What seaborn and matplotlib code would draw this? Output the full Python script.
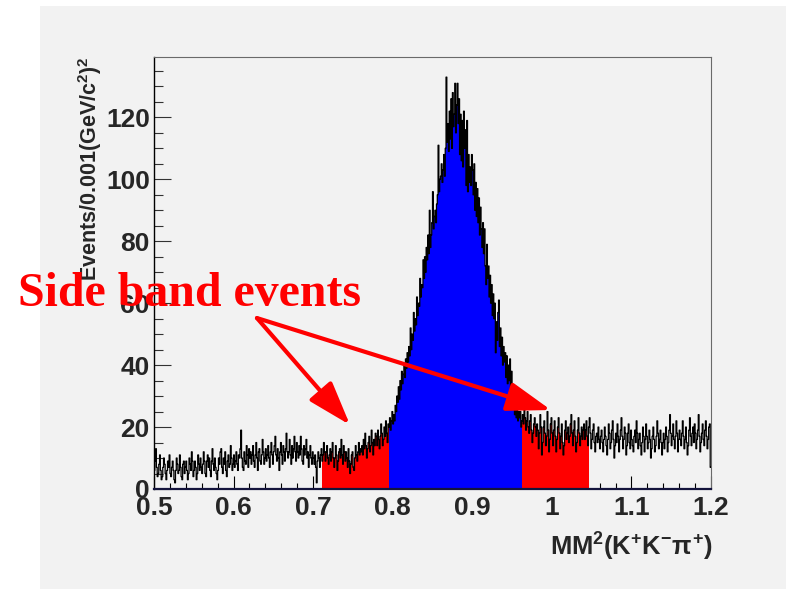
import numpy as np
import pandas as pd
import seaborn as sns
import matplotlib.pyplot as plt
from matplotlib.patches import Rectangle
from matplotlib.ticker import MultipleLocator, FuncFormatter

# Missing-mass-squared histogram, 700 bins of 0.001 GeV^2/c^4 from 0.5 to 1.2
x_lo, x_hi, n_bins = 0.5, 1.2, 700

# Bin contents, one row per 0.02 interval
counts_rows = [
    [6, 9, 13, 7, 4, 5, 8, 11, 6, 3, 4, 7, 10, 8, 5, 3, 6, 9, 7, 11],          # 0.50
    [5, 4, 7, 9, 6, 3, 2, 6, 10, 8, 5, 6, 11, 7, 4, 3, 8, 9, 5, 7],            # 0.52
    [9, 6, 3, 5, 10, 8, 6, 12, 9, 4, 6, 9, 7, 3, 5, 11, 8, 6, 10, 7],          # 0.54
    [5, 8, 12, 9, 5, 4, 9, 11, 7, 10, 6, 4, 9, 13, 8, 6, 10, 7, 5, 3],         # 0.56
    [6, 10, 8, 12, 13, 7, 5, 10, 8, 12, 6, 4, 9, 11, 7, 8, 14, 10, 6, 8],      # 0.58
    [11, 7, 9, 12, 8, 6, 11, 10, 13, 19, 10, 7, 6, 12, 9, 8, 14, 11, 7, 13],   # 0.60
    [10, 12, 8, 11, 14, 9, 7, 11, 15, 10, 6, 12, 13, 9, 8, 11, 16, 12, 8, 10],  # 0.62
    [13, 9, 11, 14, 10, 7, 12, 15, 11, 8, 12, 14, 17, 11, 9, 13, 10, 6, 12, 15],  # 0.64
    [11, 8, 14, 12, 9, 13, 18, 12, 10, 12, 16, 11, 8, 14, 10, 13, 17, 12, 9, 15],  # 0.66
    [12, 10, 14, 11, 17, 13, 9, 8, 14, 11, 13, 16, 10, 12, 7, 11, 14, 10, 8, 12],  # 0.68
    [10, 8, 11, 7, 2, 9, 12, 10, 7, 11, 13, 9, 11, 15, 12, 9, 12, 14, 10, 8],   # 0.70
    [11, 13, 9, 12, 15, 10, 7, 10, 14, 11, 6, 9, 12, 13, 10, 16, 11, 8, 14, 12],  # 0.72
    [9, 12, 10, 7, 13, 9, 5, 8, 11, 12, 7, 6, 10, 14, 11, 9, 12, 15, 11, 13],   # 0.74
    [12, 14, 11, 16, 13, 18, 14, 10, 13, 15, 17, 12, 14, 19, 15, 11, 16, 14, 18, 17],  # 0.76
    [14, 19, 16, 13, 17, 21, 18, 14, 16, 20, 17, 22, 18, 15, 21, 20, 23, 19, 22, 25],  # 0.78
    [21, 24, 22, 27, 25, 30, 28, 33, 29, 35, 32, 38, 34, 37, 40, 36, 42, 39, 44, 41],  # 0.80
    [46, 43, 52, 45, 50, 48, 57, 51, 55, 53, 62, 56, 60, 59, 68, 62, 66, 65, 74, 68],  # 0.82
    [75, 70, 78, 74, 82, 76, 90, 78, 82, 86, 96, 84, 88, 90, 86, 92, 95, 111, 96, 100],  # 0.84
    [101, 105, 99, 103, 108, 101, 110, 133, 112, 118, 109, 122, 113, 126, 110, 128, 117, 121, 131, 115],  # 0.86
    [124, 131, 118, 126, 108, 121, 106, 119, 104, 122, 110, 116, 98, 119, 96, 108, 99, 104, 98, 108],  # 0.88
    [103, 95, 105, 90, 99, 88, 97, 86, 94, 82, 91, 84, 78, 86, 76, 84, 72, 66, 79, 68],  # 0.90
    [72, 62, 69, 60, 66, 56, 63, 55, 60, 44, 54, 48, 57, 61, 46, 52, 43, 49, 40, 46],  # 0.92
    [41, 44, 36, 43, 34, 40, 35, 42, 32, 38, 29, 26, 32, 24, 28, 23, 26, 22, 25, 23],  # 0.94
    [25, 20, 22, 24, 21, 26, 23, 19, 22, 25, 20, 18, 22, 24, 19, 15, 18, 21, 23, 20],  # 0.96
    [17, 21, 19, 13, 18, 24, 20, 11, 15, 20, 22, 18, 14, 17, 25, 19, 12, 16, 21, 23],  # 0.98
    [18, 14, 19, 22, 17, 12, 16, 20, 23, 18, 13, 17, 21, 15, 11, 14, 19, 22, 16, 18],  # 1.00
    [20, 15, 17, 21, 24, 18, 14, 19, 22, 17, 12, 15, 19, 23, 18, 14, 17, 20, 16, 19],  # 1.02
    [21, 16, 19, 22, 17, 14, 20, 23, 18, 13, 16, 19, 21, 15, 12, 17, 18, 15, 20, 16],  # 1.04
    [13, 17, 19, 15, 12, 16, 20, 17, 14, 11, 16, 21, 18, 13, 15, 19, 22, 16, 10, 14],  # 1.06
    [18, 15, 21, 17, 12, 16, 19, 23, 17, 13, 16, 20, 18, 11, 14, 18, 21, 15, 13, 19],  # 1.08
    [16, 14, 12, 17, 19, 15, 22, 18, 13, 16, 18, 14, 11, 15, 20, 17, 12, 16, 21, 17],  # 1.10
    [13, 15, 19, 16, 10, 13, 17, 20, 16, 12, 14, 17, 22, 18, 13, 16, 19, 15, 11, 15],  # 1.12
    [18, 13, 16, 20, 17, 12, 15, 19, 24, 18, 14, 17, 21, 16, 13, 17, 22, 18, 12, 16],  # 1.14
    [19, 16, 14, 18, 22, 17, 13, 16, 20, 15, 11, 14, 19, 23, 17, 14, 18, 20, 15, 21],  # 1.16
    [18, 13, 16, 19, 24, 17, 12, 15, 18, 21, 16, 14, 19, 22, 17, 13, 16, 20, 21, 7],   # 1.18
]
counts = np.concatenate([np.asarray(r, dtype=float) for r in counts_rows])

# Selection windows (GeV^2/c^4)
sideband_low = (0.711, 0.795)
signal_window = (0.795, 0.963)
sideband_high = (0.963, 1.047)
# fill pieces are drawn separately, split at these points
fill_splits = [0.745, 0.843, 0.892, 0.941, 0.990]

edges = np.round(np.linspace(x_lo, x_hi, n_bins + 1), 4)
centers = 0.5 * (edges[:-1] + edges[1:])
df = pd.DataFrame({"mm2": centers, "events": counts})

W, H, DPI = 786, 589, 100
sns.set_theme(style="ticks")
plt.rcParams["font.family"] = ["Liberation Sans", "DejaVu Sans"]
plt.rcParams["font.weight"] = "bold"
plt.rcParams["mathtext.fontset"] = "custom"
plt.rcParams["mathtext.rm"] = "Liberation Sans:bold"
plt.rcParams["mathtext.bf"] = "Liberation Sans:bold"
plt.rcParams["mathtext.it"] = "Liberation Sans:bold"
plt.rcParams["mathtext.sf"] = "Liberation Sans:bold"

fig = plt.figure(figsize=(W / DPI, H / DPI), dpi=DPI, facecolor="white")
fig.patches.append(Rectangle((40 / W, 0), 1 - 40 / W, 1 - 6 / H, transform=fig.transFigure,
                             facecolor="#f2f2f2", edgecolor="none", zorder=-10))

ax_l, ax_r, ax_t, ax_b = 154, 711, 57, 489
ax = fig.add_axes([ax_l / W, 1 - ax_b / H, (ax_r - ax_l) / W, (ax_b - ax_t) / H])
ax.set_facecolor("none")


def fill_piece(lo, hi, color):
    i0 = int(round((lo - x_lo) * 1000))
    i1 = int(round((hi - x_lo) * 1000))
    sub = df.iloc[i0:i1]
    sns.histplot(data=sub, x="mm2", weights="events", bins=edges[i0:i1 + 1].tolist(),
                 element="step", fill=True, color=color, alpha=1.0,
                 linewidth=0, ax=ax, zorder=1)


for (lo, hi), color in [(sideband_low, "#ff0000"), (signal_window, "#0000ff"),
                        (sideband_high, "#ff0000")]:
    cuts = [lo] + [s for s in fill_splits if lo < s < hi] + [hi]
    for a, b in zip(cuts[:-1], cuts[1:]):
        fill_piece(a, b, color)

sns.histplot(data=df, x="mm2", weights="events", bins=edges.tolist(), element="step",
             fill=False, color="black", linewidth=0.9, ax=ax, zorder=2)

ax.set_xlim(x_lo, x_hi)
ax.set_ylim(0, 139.5)
ax.set_xlabel("")
ax.set_ylabel("")

ax.xaxis.set_major_locator(MultipleLocator(0.1))
ax.xaxis.set_minor_locator(MultipleLocator(0.02))
ax.yaxis.set_major_locator(MultipleLocator(20))
ax.yaxis.set_minor_locator(MultipleLocator(5))
ax.xaxis.set_major_formatter(FuncFormatter(lambda v, p: f"{v:g}"))
ax.yaxis.set_major_formatter(FuncFormatter(lambda v, p: f"{v:g}"))

ax.tick_params(axis="x", which="major", direction="in", length=9.4, width=0.8,
               color="black", pad=5, labelsize=19)
ax.tick_params(axis="x", which="minor", direction="in", length=4.5, width=0.8, color="black")
ax.tick_params(axis="y", which="major", direction="in", length=12, width=0.8,
               color="#333333", pad=3, labelsize=19)
ax.tick_params(axis="y", which="minor", direction="in", length=6.3, width=0.8, color="#333333")
for lab in ax.get_xticklabels() + ax.get_yticklabels():
    lab.set_fontweight("bold")

ax.spines["left"].set_color("black")
ax.spines["left"].set_linewidth(1.0)
ax.spines["bottom"].set_color("#14143c")
ax.spines["bottom"].set_linewidth(1.6)
for s in ("top", "right"):
    ax.spines[s].set_color("#6a6a6a")
    ax.spines[s].set_linewidth(0.8)

# Axis titles
fig.text(90 / W, 1 - 56 / H, r"Events/0.001(GeV/c$^{2}$)$^{2}$", rotation=90,
         ha="center", va="top", fontsize=15.5, fontweight="bold")
fig.text(712 / W, 1 - 547 / H, r"MM$^{2}$(K$^{+}$K$^{-}$$\pi^{+}$)",
         ha="right", va="center", fontsize=18.4, fontweight="bold")

# Annotation
fig.text(18 / W, 1 - 306 / H, "Side band events", family="Liberation Serif",
         fontweight="bold", fontsize=34.5, color="#ff0000", va="baseline", zorder=10)

arrow_start = (0.6294, 55.2)
arrow_tips = [(0.7463, 20.7), (0.9989, 25.5)]
for tip in arrow_tips:
    ax.annotate("", xy=tip, xytext=arrow_start, annotation_clip=False,
                arrowprops=dict(arrowstyle="-|>,head_length=2.7,head_width=0.9",
                                mutation_scale=10, color="#ff0000", lw=3,
                                shrinkA=0, shrinkB=0), zorder=6)

fig.savefig("out.png", dpi=DPI, facecolor=fig.get_facecolor())
